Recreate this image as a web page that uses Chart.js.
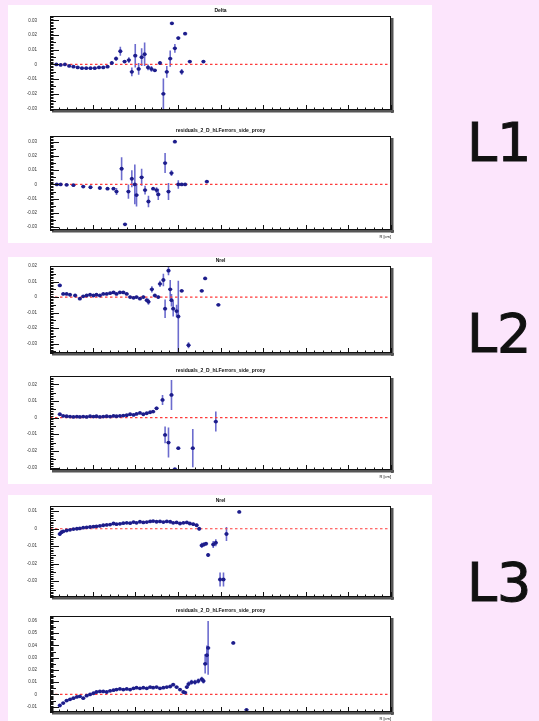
<!DOCTYPE html>
<html>
<head>
<meta charset="utf-8">
<script src="https://cdn.jsdelivr.net/npm/chart.js@4"></script>
<style>
  html, body { margin: 0; padding: 0; }
  body { width: 539px; height: 721px; background: #fce5fc; position: relative; overflow: hidden; font-family: "DejaVu Sans", sans-serif; }
  .panel { position: absolute; left: 8px; width: 424px; background: #fff; }
  canvas { position: absolute; left: 14px; filter: blur(0.4px); }
  .lbl { position: absolute; left: 467px; font-size: 54px; line-height: 1; color: #111; -webkit-text-stroke: 1px #111; }
</style>
</head>
<body>
<div class="panel" style="top:5px;height:238px"></div>
<div class="panel" style="top:257px;height:227px"></div>
<div class="panel" style="top:495px;height:226px"></div>
<div class="lbl" style="top:116px">L1</div>
<div class="lbl" style="top:307px">L2</div>
<div class="lbl" style="top:556px">L3</div>

<canvas id="c1" width="386" height="118" style="top:2px"></canvas>
<canvas id="c2" width="386" height="118" style="top:122px"></canvas>
<canvas id="c3" width="386" height="111" style="top:252px"></canvas>
<canvas id="c4" width="386" height="118" style="top:362px"></canvas>
<canvas id="c5" width="386" height="115" style="top:492px"></canvas>
<canvas id="c6" width="386" height="120" style="top:602px"></canvas>

<script>
// x axis, shared by all six plots
const xTicks = [0, 10, 20, 30, 40, 50, 60, 70, 80];
const xTitle = "R [cm]";

// L1 - top
const l1TopTitle = "Delta";
const l1TopX = [1.5, 2.5, 3.5, 4.5, 5.5, 6.5, 7.5, 8.5, 9.5, 10.5, 11.5, 12.5, 13.5, 14.5, 15.5, 16.5, 17.5, 18.5, 19.2, 20.0, 20.8, 21.5, 22.2, 23.0, 23.8, 24.6, 25.8, 26.6, 27.4, 28.2, 28.6, 29.3, 30.1, 30.9, 31.7, 32.8, 36.0];
const l1TopY = [0, -0.0003, 0, -0.001, -0.0015, -0.002, -0.0025, -0.0025, -0.0025, -0.0025, -0.002, -0.002, -0.0015, 0.001, 0.004, 0.009, 0.002, 0.003, -0.005, 0.006, -0.003, 0.005, 0.007, -0.002, -0.003, -0.004, 0.001, -0.02, -0.005, 0.004, 0.028, 0.011, 0.018, -0.005, 0.021, 0.002, 0.002];
const l1TopErr = [0.0006, 0.0005, 0.0005, 0.0005, 0.0005, 0.0005, 0.0005, 0.0005, 0.0005, 0.0005, 0.0005, 0.0005, 0.0006, 0.001, 0.0015, 0.003, 0.001, 0.002, 0.003, 0.008, 0.004, 0.006, 0.008, 0.002, 0.002, 0.001, 0.001, 0.0105, 0.004, 0.0055, 0.0008, 0.003, 0.001, 0.002, 0.0005, 0.0005, 0.0005];
const l1TopRange = [-0.031, 0.033];
const l1TopTicks = [-0.03, -0.02, -0.01, 0, 0.01, 0.02, 0.03];

// L1 - bottom
const l1BotTitle = "residuals_2_D_hLFerrors_side_proxy";
const l1BotX = [1.6, 2.5, 3.9, 5.5, 7.8, 9.5, 11.7, 13.5, 14.9, 15.6, 16.8, 17.6, 18.4, 19.2, 19.9, 20.3, 21.5, 22.3, 23.1, 24.2, 25.0, 25.4, 27.0, 27.8, 28.5, 29.3, 30.1, 30.9, 31.7, 36.8];
const l1BotY = [0, 0, -0.0003, -0.0005, -0.0015, -0.002, -0.0025, -0.003, -0.003, -0.005, 0.011, -0.028, -0.005, 0.004, 0, -0.0075, 0.005, -0.004, -0.012, -0.003, -0.004, -0.007, 0.015, -0.005, 0.008, 0.03, 0, 0, 0, 0.002];
const l1BotErr = [0.0008, 0.0005, 0.0005, 0.0005, 0.0005, 0.0005, 0.0005, 0.0005, 0.0006, 0.0025, 0.008, 0.001, 0.005, 0.006, 0.014, 0.008, 0.006, 0.003, 0.004, 0.001, 0.002, 0.004, 0.007, 0.006, 0.002, 0.0005, 0.003, 0.0005, 0.0005, 0.0005];
const l1BotRange = [-0.032, 0.034];
const l1BotTicks = [-0.03, -0.02, -0.01, 0, 0.01, 0.02, 0.03];

// L2 - top
const l2TopTitle = "Nrel";
const l2TopX = [2.3, 3.1, 3.9, 4.7, 5.9, 7.0, 7.8, 8.6, 9.4, 10.2, 10.9, 11.7, 12.5, 13.3, 14.1, 14.9, 15.6, 16.4, 17.2, 18.0, 18.8, 19.6, 20.3, 21.1, 21.9, 22.7, 23.1, 23.9, 24.6, 25.4, 25.8, 26.6, 27.0, 27.8, 28.2, 28.5, 28.9, 29.7, 30.1, 30.9, 32.5, 35.6, 36.4, 39.5];
const l2TopY = [0.0075, 0.002, 0.002, 0.0015, 0.001, -0.001, 0.0005, 0.001, 0.0015, 0.001, 0.0015, 0.001, 0.002, 0.002, 0.0025, 0.003, 0.002, 0.003, 0.003, 0.002, 0, -0.0005, 0, -0.001, 0, -0.002, -0.003, 0.005, 0.001, 0, 0.0085, 0.011, -0.0075, 0.017, 0.005, -0.002, -0.0075, -0.009, -0.0125, 0.004, -0.031, 0.004, 0.012, -0.005];
const l2TopErr = [0.001, 0.0006, 0.0006, 0.0006, 0.0006, 0.0006, 0.0006, 0.0006, 0.0006, 0.0006, 0.0006, 0.0006, 0.0006, 0.0006, 0.0006, 0.0006, 0.0006, 0.0006, 0.0006, 0.0006, 0.0008, 0.0008, 0.0008, 0.0008, 0.001, 0.001, 0.002, 0.002, 0.001, 0.001, 0.002, 0.004, 0.006, 0.003, 0.006, 0.004, 0.005, 0.004, 0.023, 0.0005, 0.002, 0.0005, 0.0005, 0.0005];
const l2TopRange = [-0.036, 0.02];
const l2TopTicks = [-0.03, -0.02, -0.01, 0, 0.01, 0.02];

// L2 - bottom
const l2BotTitle = "residuals_2_D_hLFerrors_side_proxy";
const l2BotX = [2.3, 3.1, 3.9, 4.7, 5.5, 6.3, 7.0, 7.8, 8.6, 9.4, 10.2, 10.9, 11.7, 12.5, 13.3, 14.1, 14.9, 15.6, 16.4, 17.2, 18.0, 18.8, 19.6, 20.3, 21.1, 21.9, 22.7, 23.5, 24.2, 25.0, 26.4, 27.0, 27.8, 28.5, 29.3, 30.1, 33.5, 38.9];
const l2BotY = [0.002, 0.001, 0.0008, 0.0006, 0.0004, 0.0006, 0.0004, 0.0006, 0.0004, 0.0008, 0.0006, 0.0008, 0.0004, 0.0006, 0.0008, 0.0006, 0.001, 0.0008, 0.001, 0.0012, 0.0014, 0.002, 0.0016, 0.0022, 0.0028, 0.002, 0.0026, 0.0032, 0.0036, 0.0056, 0.0106, -0.0104, -0.015, 0.0136, -0.031, -0.0184, -0.0184, -0.0024];
const l2BotErr = [0.0008, 0.0005, 0.0005, 0.0005, 0.0005, 0.0005, 0.0005, 0.0005, 0.0005, 0.0005, 0.0005, 0.0005, 0.0005, 0.0005, 0.0005, 0.0005, 0.0005, 0.0005, 0.0005, 0.0005, 0.0005, 0.0006, 0.0006, 0.0006, 0.0006, 0.0006, 0.0006, 0.0008, 0.0008, 0.001, 0.003, 0.005, 0.009, 0.009, 0.0005, 0.0003, 0.0115, 0.006];
const l2BotRange = [-0.0315, 0.025];
const l2BotTicks = [-0.03, -0.02, -0.01, 0, 0.01, 0.02];

// L3 - top
const l3TopTitle = "Nrel";
const l3TopX = [2.3, 2.7, 3.1, 3.9, 4.7, 5.5, 6.3, 7.0, 7.8, 8.6, 9.4, 10.2, 10.9, 11.7, 12.5, 13.3, 14.1, 14.9, 15.6, 16.4, 17.2, 18.0, 18.8, 19.6, 20.3, 21.1, 21.9, 22.7, 23.5, 24.2, 25.0, 25.8, 26.6, 27.4, 28.2, 28.9, 29.7, 30.5, 31.3, 32.1, 32.8, 33.6, 34.4, 35.0, 35.6, 36.1, 36.6, 37.1, 38.3, 38.9, 39.9, 40.7, 41.4, 44.4];
const l3TopY = [-0.003, -0.002, -0.0015, -0.001, -0.0006, -0.0002, 0, 0.0002, 0.0006, 0.0008, 0.001, 0.0012, 0.0014, 0.0016, 0.002, 0.0022, 0.0024, 0.003, 0.0026, 0.0028, 0.0032, 0.0034, 0.0032, 0.0038, 0.0034, 0.004, 0.0036, 0.0038, 0.0042, 0.0044, 0.004, 0.0042, 0.0038, 0.0042, 0.004, 0.0034, 0.0036, 0.003, 0.0034, 0.0036, 0.003, 0.0026, 0.002, 0, -0.0095, -0.009, -0.0085, -0.015, -0.009, -0.008, -0.029, -0.029, -0.003, 0.0096];
const l3TopErr = [0.001, 0.0006, 0.0005, 0.0005, 0.0005, 0.0005, 0.0005, 0.0005, 0.0005, 0.0005, 0.0005, 0.0005, 0.0005, 0.0005, 0.0005, 0.0005, 0.0005, 0.0005, 0.0005, 0.0005, 0.0005, 0.0005, 0.0005, 0.0005, 0.0005, 0.0005, 0.0005, 0.0005, 0.0005, 0.0005, 0.0005, 0.0005, 0.0005, 0.0005, 0.0005, 0.0005, 0.0006, 0.0006, 0.0006, 0.0006, 0.0006, 0.0008, 0.0008, 0.001, 0.0015, 0.001, 0.001, 0.001, 0.002, 0.002, 0.004, 0.004, 0.004, 0.0005];
const l3TopRange = [-0.039, 0.013];
const l3TopTicks = [-0.03, -0.02, -0.01, 0, 0.01];

// L3 - bottom
const l3BotTitle = "residuals_2_D_hLFerrors_side_proxy";
const l3BotX = [2.3, 3.1, 3.9, 4.7, 5.5, 6.3, 7.0, 7.8, 8.6, 9.4, 10.2, 10.9, 11.7, 12.5, 13.3, 14.1, 14.9, 15.6, 16.4, 17.2, 18.0, 18.8, 19.6, 20.3, 21.1, 21.9, 22.7, 23.5, 24.2, 25.0, 25.8, 26.6, 27.4, 28.2, 28.9, 29.7, 30.5, 31.3, 31.7, 32.1, 32.5, 33.2, 34.0, 34.8, 35.6, 36.0, 36.4, 36.8, 37.1, 43.0, 46.1];
const l3BotY = [-0.009, -0.007, -0.005, -0.004, -0.003, -0.002, -0.0015, -0.003, -0.001, 0, 0.001, 0.002, 0.0025, 0.0025, 0.002, 0.003, 0.0035, 0.004, 0.0045, 0.004, 0.0045, 0.004, 0.005, 0.0055, 0.005, 0.0055, 0.005, 0.006, 0.0055, 0.006, 0.005, 0.0055, 0.006, 0.0065, 0.008, 0.006, 0.004, 0.002, 0.0015, 0.006, 0.0085, 0.01, 0.01, 0.011, 0.0125, 0.011, 0.025, 0.032, 0.038, 0.042, -0.0125];
const l3BotErr = [0.001, 0.0008, 0.0006, 0.0006, 0.0006, 0.0006, 0.0006, 0.0006, 0.0006, 0.0006, 0.0006, 0.0006, 0.0006, 0.0006, 0.0006, 0.0006, 0.0006, 0.0006, 0.0006, 0.0006, 0.0006, 0.0006, 0.0006, 0.0006, 0.0006, 0.0006, 0.0006, 0.0006, 0.0006, 0.0006, 0.0006, 0.0006, 0.0006, 0.0008, 0.001, 0.001, 0.001, 0.001, 0.001, 0.0015, 0.002, 0.002, 0.002, 0.002, 0.002, 0.002, 0.008, 0.008, 0.022, 0.001, 0.0005];
const l3BotRange = [-0.0143, 0.064];
const l3BotTicks = [-0.01, 0, 0.01, 0.02, 0.03, 0.04, 0.05, 0.06];

// ROOT-like frame, inward ticks, error bars and titles
const rootStyle = {
  id: "rootStyle",
  beforeDatasetsDraw(chart) {
    const { ctx, scales: { x, y } } = chart;
    ctx.save();
    ctx.strokeStyle = "rgba(45,45,185,0.7)";
    ctx.lineWidth = 1.6;
    chart.data.datasets.forEach((ds) => {
      if (!ds.err) return;
      ds.data.forEach((p, i) => {
        const e = ds.err[i];
        const px = x.getPixelForValue(p.x);
        const py = y.getPixelForValue(p.y);
        const y1 = y.getPixelForValue(Math.min(p.y + e, y.max));
        const y2 = y.getPixelForValue(Math.max(p.y - e, y.min));
        ctx.beginPath();
        ctx.moveTo(px, y1);
        ctx.lineTo(px, y2);
        ctx.moveTo(x.getPixelForValue(p.x - 0.5), py);
        ctx.lineTo(x.getPixelForValue(p.x + 0.5), py);
        ctx.stroke();
      });
    });
    ctx.restore();
  },
  afterDraw(chart) {
    const { ctx, chartArea: a, scales: { x, y } } = chart;
    const opts = chart.options.plugins.rootStyle;
    ctx.save();
    // shadow + frame
    ctx.fillStyle = "#555";
    ctx.fillRect(a.right, a.top + 2, 2.5, a.bottom - a.top + 1);
    ctx.fillRect(a.left + 2, a.bottom, a.right - a.left + 1, 2.5);
    ctx.strokeStyle = "#111";
    ctx.lineWidth = 1;
    ctx.strokeRect(a.left + 0.5, a.top + 0.5, a.right - a.left - 1, a.bottom - a.top - 1);

    // x ticks (inward)
    ctx.beginPath();
    for (let v = x.min; v <= x.max + 1e-9; v += 2) {
      const px = Math.round(x.getPixelForValue(v)) + 0.5;
      const len = v % 10 === 0 ? 5 : 2.5;
      ctx.moveTo(px, a.bottom);
      ctx.lineTo(px, a.bottom - len);
    }
    // y ticks (inward), majors from tick list, minors in between
    const ticks = opts.yTicks;
    const step = ticks[1] - ticks[0];
    const minor = step / 10;
    const start = Math.ceil(y.min / minor) * minor;
    for (let v = start; v <= y.max + 1e-9; v += minor) {
      const py = Math.round(y.getPixelForValue(v)) + 0.5;
      const k = Math.round(v / minor);
      const len = k % 10 === 0 ? 9 : k % 5 === 0 ? 6 : 3.5;
      ctx.moveTo(a.left, py);
      ctx.lineTo(a.left + len, py);
    }
    ctx.stroke();

    // title
    ctx.fillStyle = "#111";
    ctx.font = "bold 5px 'Liberation Sans', sans-serif";
    ctx.textAlign = "center";
    ctx.textBaseline = "middle";
    ctx.fillText(opts.title, (a.left + a.right) / 2, a.top - 5);

    // x axis title on the lower plots
    if (opts.xTitle) {
      ctx.font = "4px 'Liberation Sans', sans-serif";
      ctx.textAlign = "right";
      ctx.fillText(opts.xTitle, a.right, a.bottom + 7);
    }
    ctx.restore();
  },
};

function makeChart(id, title, xs, ys, errs, range, yTicks, withXTitle) {
  const points = xs.map((v, i) => ({ x: v, y: ys[i] }));
  new Chart(document.getElementById(id).getContext("2d"), {
    type: "scatter",
    data: {
      datasets: [
        {
          data: points,
          err: errs,
          pointRadius: 1.9,
          pointBackgroundColor: "#1d1d8a",
          pointBorderWidth: 0,
          order: 1,
        },
        {
          type: "line",
          data: [{ x: xTicks[0], y: 0 }, { x: xTicks[xTicks.length - 1], y: 0 }],
          borderColor: "#ff3a3a",
          borderWidth: 1.2,
          borderDash: [2.5, 2.5],
          pointRadius: 0,
          order: 2,
        },
      ],
    },
    options: {
      responsive: false,
      animation: false,
      layout: { padding: { top: 14, right: 9, left: 0, bottom: 0 } },
      plugins: {
        legend: { display: false },
        tooltip: { enabled: false },
        rootStyle: { title: title, yTicks: yTicks, xTitle: withXTitle ? xTitle : "" },
      },
      scales: {
        x: {
          type: "linear",
          min: xTicks[0],
          max: xTicks[xTicks.length - 1],
          grid: { display: false },
          border: { display: false },
          ticks: { display: false },
          afterBuildTicks: (s) => { s.ticks = xTicks.map((v) => ({ value: v })); },
          afterFit: (s) => { s.height = 10; },
        },
        y: {
          min: range[0],
          max: range[1],
          grid: { display: false },
          border: { display: false },
          ticks: {
            padding: 5,
            color: "#333",
            font: { size: 4.5, family: "'Liberation Sans', sans-serif" },
            callback: (v) => (v === 0 ? "0" : v.toFixed(2)),
          },
          afterBuildTicks: (s) => { s.ticks = yTicks.map((v) => ({ value: v })); },
          afterFit: (s) => { s.width = 36; },
        },
      },
    },
    plugins: [rootStyle],
  });
}

makeChart("c1", l1TopTitle, l1TopX, l1TopY, l1TopErr, l1TopRange, l1TopTicks, false);
makeChart("c2", l1BotTitle, l1BotX, l1BotY, l1BotErr, l1BotRange, l1BotTicks, true);
makeChart("c3", l2TopTitle, l2TopX, l2TopY, l2TopErr, l2TopRange, l2TopTicks, false);
makeChart("c4", l2BotTitle, l2BotX, l2BotY, l2BotErr, l2BotRange, l2BotTicks, true);
makeChart("c5", l3TopTitle, l3TopX, l3TopY, l3TopErr, l3TopRange, l3TopTicks, false);
makeChart("c6", l3BotTitle, l3BotX, l3BotY, l3BotErr, l3BotRange, l3BotTicks, true);
</script>
</body>
</html>
